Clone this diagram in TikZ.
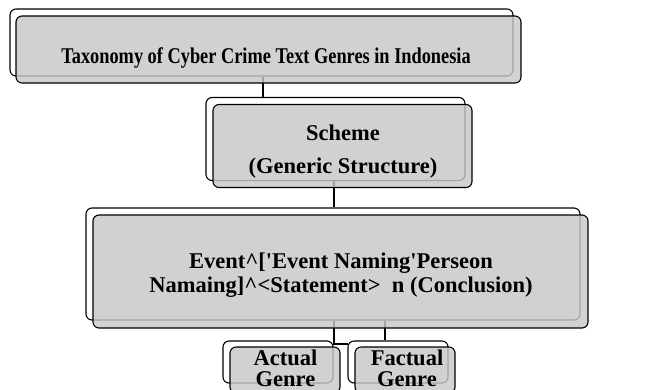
\documentclass[tikz,border=0pt]{standalone}
\usepackage{fontspec}
\usepackage{graphicx}
\setmainfont{Liberation Serif}[Ligatures=TeXOff]
\definecolor{boxgray}{RGB}{200,200,200}
\tikzset{
  backbox/.style={draw=black, fill=white, rounded corners=6pt, line width=1.1pt, inner sep=0pt},
  frontbox/.style={draw=black, fill=boxgray, fill opacity=0.82,
    rounded corners=6pt, line width=1.1pt, inner sep=0pt},
  bigtxt/.style={anchor=base, inner sep=0pt, text=black, font=\bfseries\fontsize{22.5}{26}\selectfont},
  link/.style={draw=black, line width=1.1pt}
}
\begin{document}
\begin{tikzpicture}[x=1pt,y=-1pt]
\useasboundingbox (0,0) rectangle (668,389);
\clip (0,0) rectangle (668,389);
% back boxes
\node[backbox, minimum width=503pt, minimum height=67pt] (b1) at (261.5,42.5) {};
\node[backbox, minimum width=259pt, minimum height=83pt] (b2) at (335.5,139) {};
\node[backbox, minimum width=494pt, minimum height=112pt] (b3) at (333,264) {};
\node[backbox, minimum width=110pt, minimum height=42pt] (b4) at (278,362) {};
\node[backbox, minimum width=100pt, minimum height=42pt] (b5) at (398,362) {};
% connector positions
\coordinate (c1) at (263,0);
\coordinate (c2) at (334,0);
\coordinate (c3) at (334,0);
\coordinate (c3e) at (348,344);
\coordinate (c4) at (385,0);
% connectors
\draw[link] (b1.south -| c1) -- (c1 |- b2.north);
\draw[link] (b2.south -| c2) -- (c2 |- b3.north);
\draw[link] (b3.south -| c3) -- (c3 |- c3e) -- (c3e);
\draw[link] (b3.south -| c4) -- (c4 |- b5.north);
% front boxes
\node[frontbox, minimum width=505pt, minimum height=67pt] (f1) at (268.5,49.5) {};
\node[frontbox, minimum width=259pt, minimum height=83pt] (f2) at (342.5,146) {};
\node[frontbox, minimum width=495pt, minimum height=113pt] (f3) at (340.5,271.5) {};
\node[frontbox, minimum width=110pt, minimum height=46pt] (f4) at (285,370) {};
\node[frontbox, minimum width=100pt, minimum height=46pt] (f5) at (405,370) {};
% texts
\node[bigtxt] (t1) at (266,63) {\scalebox{0.815}[1]{Taxonomy of Cyber Crime Text Genres in Indonesia}};
\node[bigtxt] (t2a) at (343,140) {Scheme};
\node[bigtxt] (t2b) at (343,173) {(Generic Structure)};
\node[bigtxt] (t3a) at (341,268) {Event\^{}['Event Naming'Perseon};
\node[bigtxt] (t3b) at (341,292) {Namaing]\^{}<Statement>\ \ n (Conclusion)};
\node[bigtxt] (t4a) at (285.5,365) {Actual};
\node[bigtxt] (t4b) at (285.5,386) {Genre};
\node[bigtxt] (t5a) at (407,365) {Factual};
\node[bigtxt] (t5b) at (407,386) {Genre};
\end{tikzpicture}
\end{document}
